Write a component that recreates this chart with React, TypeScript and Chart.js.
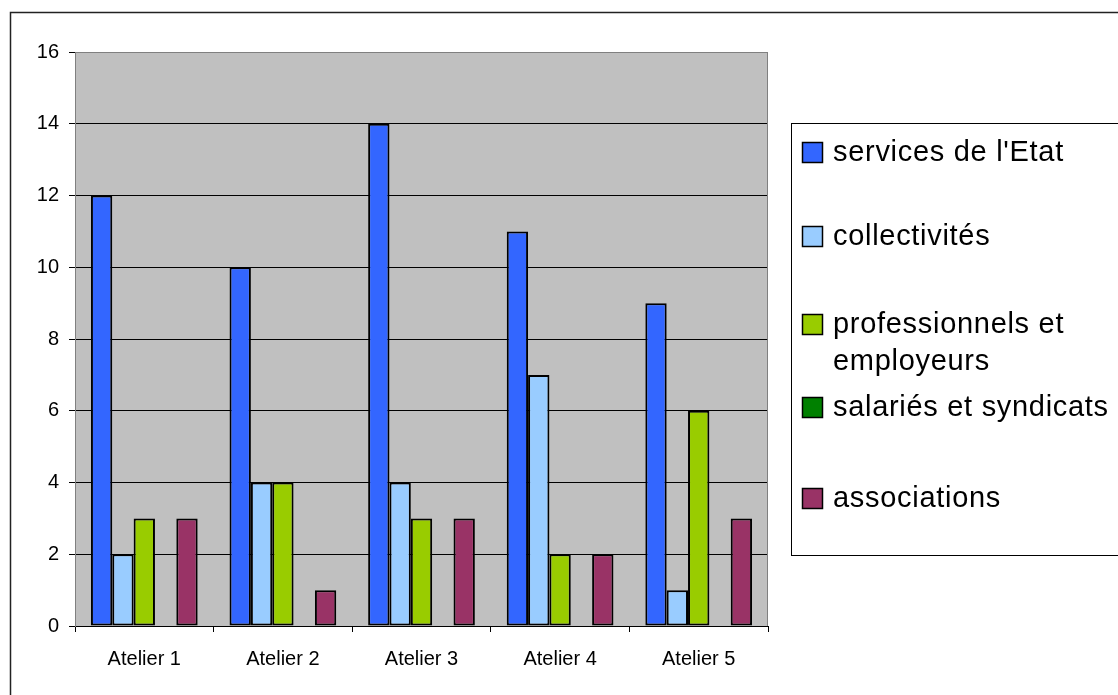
import React, { useEffect, useRef } from 'react';
import { Chart, registerables } from 'chart.js';

Chart.register(...registerables);

const categories = ['Atelier 1', 'Atelier 2', 'Atelier 3', 'Atelier 4', 'Atelier 5'];
const seriesNames = [
  "services de l'Etat",
  'collectivités',
  'professionnels et employeurs',
  'salariés et syndicats',
  'associations',
];
const servicesEtat = [12, 10, 14, 11, 9];
const collectivites = [2, 4, 4, 7, 1];
const professionnels = [3, 4, 3, 2, 6];
const salaries = [0, 0, 0, 0, 0];
const associations = [3, 1, 3, 2, 3];
const seriesColors = ['#3366FF', '#99CCFF', '#99CC00', '#008000', '#993366'];
const yMin = 0;
const yMax = 16;
const yStep = 2;

const FONT = '"Liberation Sans", Arial, sans-serif';

const backgroundPlugin = {
  id: 'bgPlugin',
  beforeDraw(chart: any) {
    const { ctx, chartArea, width, height } = chart;
    ctx.save();
    ctx.fillStyle = '#FFFFFF';
    ctx.fillRect(0, 0, width, height);
    ctx.strokeStyle = '#222222';
    ctx.lineWidth = 1.5;
    ctx.strokeRect(10.5, 12.5, width + 20, height + 20);
    ctx.fillStyle = '#C0C0C0';
    ctx.fillRect(chartArea.left, chartArea.top, chartArea.right - chartArea.left, chartArea.bottom - chartArea.top);
    ctx.restore();
  },
  beforeDatasetsDraw(chart: any) {
    const { ctx, chartArea } = chart;
    ctx.save();
    ctx.strokeStyle = '#808080';
    ctx.lineWidth = 1;
    ctx.beginPath();
    ctx.moveTo(chartArea.left + 0.5, chartArea.bottom);
    ctx.lineTo(chartArea.left + 0.5, chartArea.top + 0.5);
    ctx.lineTo(chartArea.right - 0.5, chartArea.top + 0.5);
    ctx.lineTo(chartArea.right - 0.5, chartArea.bottom);
    ctx.stroke();
    ctx.restore();
  },
};

const legendRowY = [152, 236, 324, 407, 498];

const boxLegendPlugin = {
  id: 'boxLegend',
  afterDraw(chart: any) {
    const { ctx, width } = chart;
    const boxLeft = 791.5;
    const boxTop = 123.5;
    const boxBottom = 555.5;
    const textX = 833;
    const maxTextW = width - textX - 2;
    ctx.save();
    ctx.fillStyle = '#FFFFFF';
    ctx.fillRect(boxLeft, boxTop, width, boxBottom - boxTop);
    ctx.strokeStyle = '#000000';
    ctx.lineWidth = 1;
    ctx.strokeRect(boxLeft, boxTop, width, boxBottom - boxTop);
    ctx.font = '29px ' + FONT;
    try {
      (ctx as any).letterSpacing = '0.7px';
    } catch (e) {}
    ctx.textBaseline = 'middle';
    ctx.textAlign = 'left';
    chart.data.datasets.forEach((ds: any, i: number) => {
      const y = legendRowY[i];
      ctx.fillStyle = ds.backgroundColor;
      ctx.fillRect(802, y - 10, 21, 21);
      ctx.strokeStyle = '#000000';
      ctx.lineWidth = 1.5;
      ctx.strokeRect(802.5, y - 9.5, 20, 20);
      const words = String(ds.label).split(' ');
      const lines: string[] = [];
      let cur = '';
      words.forEach((w) => {
        const test = cur ? cur + ' ' + w : w;
        if (ctx.measureText(test).width > maxTextW && cur) {
          lines.push(cur);
          cur = w;
        } else {
          cur = test;
        }
      });
      if (cur) lines.push(cur);
      ctx.fillStyle = '#000000';
      lines.forEach((ln, k) => {
        ctx.fillText(ln, textX, y + 1 + k * 37);
      });
    });
    ctx.restore();
  },
};

export default function App() {
  const canvasRef = useRef<HTMLCanvasElement | null>(null);

  useEffect(() => {
    document.body.style.margin = '0';
    const canvas = canvasRef.current;
    if (!canvas) return;
    const values = [servicesEtat, collectivites, professionnels, salaries, associations];
    const chart = new Chart(canvas, {
      type: 'bar',
      data: {
        labels: categories,
        datasets: seriesNames.map((name, i) => ({
          label: name,
          data: values[i],
          backgroundColor: seriesColors[i],
          borderColor: '#000000',
          borderWidth: 2,
          borderSkipped: false,
          categoryPercentage: 0.77,
          barPercentage: 1,
        })),
      },
      options: {
        responsive: false,
        animation: false,
        devicePixelRatio: 1,
        layout: { padding: { top: 52, right: 350, left: 0, bottom: 0 } },
        plugins: {
          legend: { display: false },
          tooltip: { enabled: false },
          title: { display: false },
        },
        scales: {
          x: {
            offset: true,
            grid: {
              offset: true,
              drawOnChartArea: false,
              drawTicks: true,
              tickLength: 6,
              color: '#000000',
            },
            border: { display: true, color: '#000000', width: 1 },
            ticks: {
              color: '#000000',
              font: { family: FONT, size: 20 },
              padding: 15,
              maxRotation: 0,
            },
            afterFit(scale: any) {
              scale.height = 69;
            },
          },
          y: {
            min: yMin,
            max: yMax,
            ticks: {
              stepSize: yStep,
              color: '#000000',
              font: { family: FONT, size: 20 },
              padding: 10,
            },
            grid: {
              color: (c: any) => (c.tick && c.tick.value === yMax ? '#808080' : '#000000'),
              tickColor: '#000000',
              tickLength: 6,
              lineWidth: 1,
            },
            border: { display: true, color: '#808080', width: 1 },
            afterFit(scale: any) {
              scale.width = 75;
            },
          },
        },
      },
      plugins: [backgroundPlugin, boxLegendPlugin],
    });
    return () => chart.destroy();
  }, []);

  return (
    <div style={{ width: 1118, height: 695 }}>
      <canvas ref={canvasRef} width={1118} height={695} style={{ display: 'block' }} />
    </div>
  );
}
